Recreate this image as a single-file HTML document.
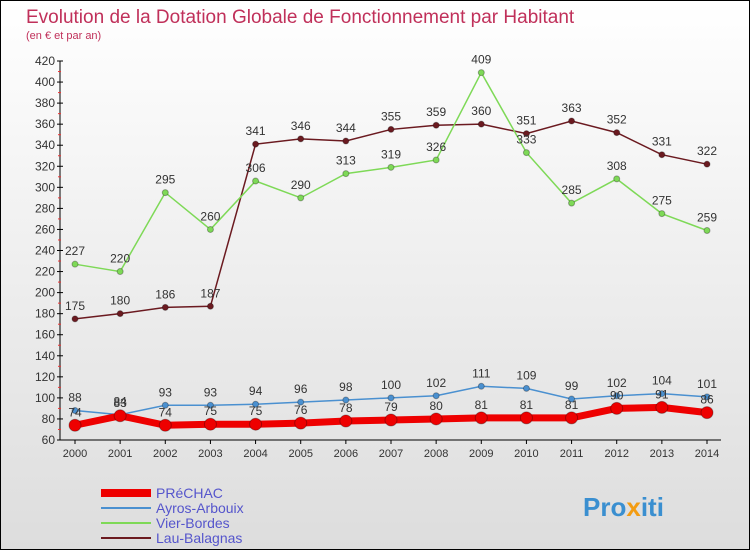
<!DOCTYPE html>
<html><head><meta charset="utf-8"><style>
body{margin:0}
#c{width:748px;height:548px;border:1px solid #000;position:relative;background:linear-gradient(#fff,#ddd);font-family:"Liberation Sans",sans-serif;overflow:hidden}
</style></head><body>
<div id="c">
<svg id="s" width="748" height="548" xmlns="http://www.w3.org/2000/svg">
<text x="25" y="22" font-size="19" fill="#c0305a">Evolution de la Dotation Globale de Fonctionnement par Habitant</text>
<text x="25" y="38" font-size="11" fill="#c0305a">(en € et par an)</text>
<g id="ax"></g><g id="ser"></g>
<g font-size="14">
<line x1="100" y1="492" x2="150" y2="492" stroke="#e00" stroke-width="8"/><text x="155" y="497" fill="#55c">PRéCHAC</text>
<line x1="100" y1="507" x2="150" y2="507" stroke="#4a90d0" stroke-width="2"/><text x="155" y="512" fill="#55c">Ayros-Arbouix</text>
<line x1="100" y1="522" x2="150" y2="522" stroke="#7ed957" stroke-width="2"/><text x="155" y="527" fill="#55c">Vier-Bordes</text>
<line x1="100" y1="537" x2="150" y2="537" stroke="#6b1a20" stroke-width="2"/><text x="155" y="542" fill="#55c">Lau-Balagnas</text>
</g>
<text x="582" y="515" font-size="26" font-weight="bold" fill="#3a8fd0">Pro<tspan fill="#f39c12">x</tspan>iti</text>
</svg></div>
<script>
const years=[2000,2001,2002,2003,2004,2005,2006,2007,2008,2009,2010,2011,2012,2013,2014];
const yTicks=[60,80,100,120,140,160,180,200,220,240,260,280,300,320,340,360,380,400,420];
const prechac=[74,83,74,75,75,76,78,79,80,81,81,81,90,91,86];
const ayros=[88,84,93,93,94,96,98,100,102,111,109,99,102,104,101];
const vier=[227,220,295,260,306,290,313,319,326,409,333,285,308,275,259];
const lau=[175,180,186,187,341,346,344,355,359,360,351,363,352,331,322];
const NS="http://www.w3.org/2000/svg";
const X=i=>74+i*(706-74)/14, Y=v=>439-(v-60)*(379/360);
function mk(t,a,p){const e=document.createElementNS(NS,t);for(const k in a)e.setAttribute(k,a[k]);p.appendChild(e);return e;}
const ax=document.getElementById('ax'),ser=document.getElementById('ser');
let l=mk('line',{x1:59,y1:Y(420),x2:59,y2:Y(60),stroke:'#000'},ax);


l=mk('line',{x1:59,y1:Y(60),x2:720,y2:Y(60),stroke:'#000'},ax);


yTicks.forEach((v,i)=>{mk('line',{x1:56,y1:Y(v),x2:62,y2:Y(v),stroke:'#000'},ax);
 if(i<yTicks.length-1)mk('line',{x1:57,y1:Y(v+10),x2:60,y2:Y(v+10),stroke:'#e33'},ax);
 const t=mk('text',{x:54,y:Y(v)+4,'font-size':12,'text-anchor':'end',fill:'#333'},ax);t.textContent=v;
 
 });
years.forEach((y,i)=>{mk('line',{x1:X(i),y1:Y(60),x2:X(i),y2:Y(60)+4,stroke:'#000'},ax);
 const t=mk('text',{x:X(i),y:Y(60)+17,'font-size':11,'text-anchor':'middle',fill:'#333'},ax);t.textContent=y;
 
 });
function series(d,col,w,r,name){
 const g=mk('g',{},ser);
 
 
 mk('polyline',{points:d.map((v,i)=>X(i)+','+Y(v)).join(' '),fill:'none',stroke:col,'stroke-width':w},g);
 d.forEach((v,i)=>{const c=mk('circle',{cx:X(i),cy:Y(v),r:r,fill:col,stroke:'rgba(0,0,0,0.3)'},g);
  
  
  const t=mk('text',{x:X(i),y:Y(v)-9,'font-size':12,'text-anchor':'middle',fill:'#333'},g);t.textContent=v;
  
  });
}
series(lau,'#6b1a20',1.5,3,'series-lau');
series(vier,'#7ed957',1.5,3,'series-vier');
series(ayros,'#4a90d0',1.5,3,'series-ayros');
series(prechac,'#e00',7,6,'series-prechac');
</script>
</body></html>
